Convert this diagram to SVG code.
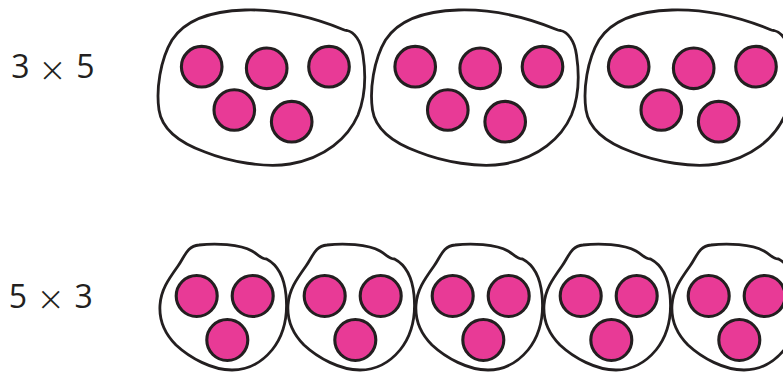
<svg xmlns="http://www.w3.org/2000/svg" xmlns:xlink="http://www.w3.org/1999/xlink" width="783" height="372" viewBox="0 0 783 372">
<style>
.blob{fill:#ffffff;stroke:#231f20;stroke-width:2.8;stroke-linejoin:round;stroke-linecap:round}
.dot{fill:#e83a96;stroke:#231f20;stroke-width:3.1}
.lbl{font-family:"Open Sans","Noto Sans","Liberation Sans",sans-serif;font-size:32px;fill:#231f20;text-anchor:middle}
.times{font-size:41px;font-weight:300}
</style>
<defs>
<path id="bigBlob" d="M 347 30.5 C 354 32, 361 40, 363 55 C 366 75, 366 95, 358 115 C 348 138, 325 158, 290 164 C 265 168, 230 162, 205 152 C 180 143, 162 130, 159 110 C 156 90, 160 60, 172 40 C 185 20, 210 11, 245 10 C 280 9, 315 18, 343 29.5 Q 345 30.5, 347 30.5 Z"/>
<path id="smallBlob" d="M 266.5 259 C 276 264, 284 275, 286 295 C 288 315, 284 335, 272 350 C 262 362, 248 370, 232 370 C 212 370, 190 358, 176 345 C 165 334, 159 320, 160 305 C 161 290, 168 280, 178 266 C 185 256, 187 246, 199 245 C 215 243, 240 244, 252 251 C 257 254, 260 257, 262.5 258 Q 264.5 259, 266.5 259 Z"/>
<g id="five">
<circle cx="201.7" cy="66.7" r="20.3"/>
<circle cx="266.7" cy="68.3" r="20.3"/>
<circle cx="329" cy="66.7" r="20.3"/>
<circle cx="234.3" cy="110" r="20.3"/>
<circle cx="291.7" cy="121.7" r="20.3"/>
</g>
<g id="three">
<circle cx="196.7" cy="296" r="20.5"/>
<circle cx="252.7" cy="296" r="20.5"/>
<circle cx="227.3" cy="340" r="20.5"/>
</g>
</defs>
<rect width="783" height="372" fill="#ffffff"/>
<g id="label-3x5"><text class="lbl" y="78.3"><tspan x="20.3">3</tspan><tspan class="times" x="52.5" y="84.5">×</tspan><tspan x="85.3" y="78.3">5</tspan></text></g>
<g id="label-5x3"><text class="lbl" y="307.7"><tspan x="18">5</tspan><tspan class="times" x="50.8" y="313.9">×</tspan><tspan x="83.7" y="307.7">3</tspan></text></g>
<g id="group-top-1"><use xlink:href="#bigBlob" class="blob"/><use xlink:href="#five" class="dot"/></g>
<g id="group-top-2" transform="translate(213.5,0)"><use xlink:href="#bigBlob" class="blob"/><use xlink:href="#five" class="dot"/></g>
<g id="group-top-3" transform="translate(427,0)"><use xlink:href="#bigBlob" class="blob"/><use xlink:href="#five" class="dot"/></g>
<g id="group-bottom-1"><use xlink:href="#smallBlob" class="blob"/><use xlink:href="#three" class="dot"/></g>
<g id="group-bottom-2" transform="translate(128,0)"><use xlink:href="#smallBlob" class="blob"/><use xlink:href="#three" class="dot"/></g>
<g id="group-bottom-3" transform="translate(256,0)"><use xlink:href="#smallBlob" class="blob"/><use xlink:href="#three" class="dot"/></g>
<g id="group-bottom-4" transform="translate(384,0)"><use xlink:href="#smallBlob" class="blob"/><use xlink:href="#three" class="dot"/></g>
<g id="group-bottom-5" transform="translate(512,0)"><use xlink:href="#smallBlob" class="blob"/><use xlink:href="#three" class="dot"/></g>
<g id="connectors"/>
</svg>
